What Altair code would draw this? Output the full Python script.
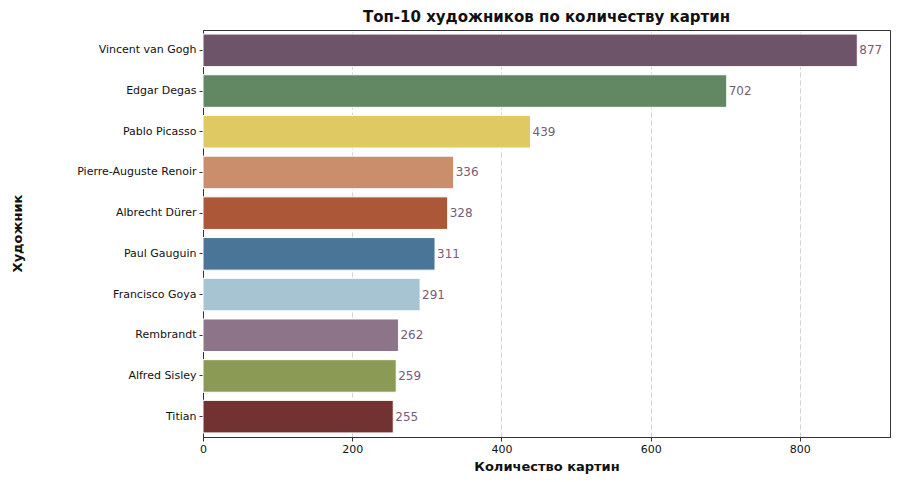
import altair as alt
import pandas as pd

artists = ["Vincent van Gogh", "Edgar Degas", "Pablo Picasso", "Pierre-Auguste Renoir",
           "Albrecht Dürer", "Paul Gauguin", "Francisco Goya", "Rembrandt",
           "Alfred Sisley", "Titian"]
paintings = [877, 702, 439, 336, 328, 311, 291, 262, 259, 255]
colors = ["#6e5469", "#628763", "#dfc962", "#cb8e6c", "#ab5738",
          "#4a7597", "#a7c4d3", "#8e7488", "#8b9a55", "#733232"]

df = pd.DataFrame({"artist": artists, "count": paintings})

FONT = "DejaVu Sans"

y_enc = alt.Y("artist:N", sort=artists, title="Художник",
              scale=alt.Scale(paddingInner=0.2, paddingOuter=0.1),
              axis=alt.Axis(labelFontSize=11, labelFont=FONT, labelColor="#111",
                            titleFontSize=13, titleFont=FONT, titleColor="#111",
                            titleFontWeight="bold", titleX=-186, titleY=203,
                            titleBaseline="middle", titleAngle=270,
                            tickSize=4, tickColor="#333", domainColor="#333",
                            labelPadding=3, grid=False))
x_enc = alt.X("count:Q", title="Количество картин",
              scale=alt.Scale(domain=[0, 920.85], nice=False, zero=True),
              axis=alt.Axis(values=[0, 200, 400, 600, 800], labelFontSize=11,
                            labelFont=FONT, labelColor="#111", labelFlush=False,
                            titleFontSize=13, titleFont=FONT, titleColor="#111",
                            titleFontWeight="bold",
                            titlePadding=6, tickSize=4, tickColor="#333",
                            domainColor="#333", grid=True, gridColor="#c8c8c8",
                            gridDash=[5, 3], gridWidth=0.8))

bars = alt.Chart(df).mark_bar(stroke="white", strokeWidth=1).encode(
    y=y_enc, x=x_enc,
    color=alt.Color("artist:N", sort=artists,
                    scale=alt.Scale(domain=artists, range=colors), legend=None),
)

labels = alt.Chart(df).mark_text(align="left", baseline="middle", dx=2,
                                 fontSize=12, font=FONT, color="#7b5a78").encode(
    y=alt.Y("artist:N", sort=artists),
    x=alt.X("count:Q"),
    text=alt.Text("count:Q"),
)

chart = (bars + labels).properties(
    width=687, height=407,
    background="white",
    autosize=alt.AutoSizeParams(type="none"),
    padding={"left": 195, "top": 22, "right": 2, "bottom": 37},
    title=alt.TitleParams("Топ-10 художников по количеству картин", fontSize=15,
                          font=FONT, fontWeight="bold", color="#111", offset=5),
).configure_view(stroke="#333", strokeWidth=1)

chart.save("out.html", embed_options={"renderer": "svg", "actions": False})
